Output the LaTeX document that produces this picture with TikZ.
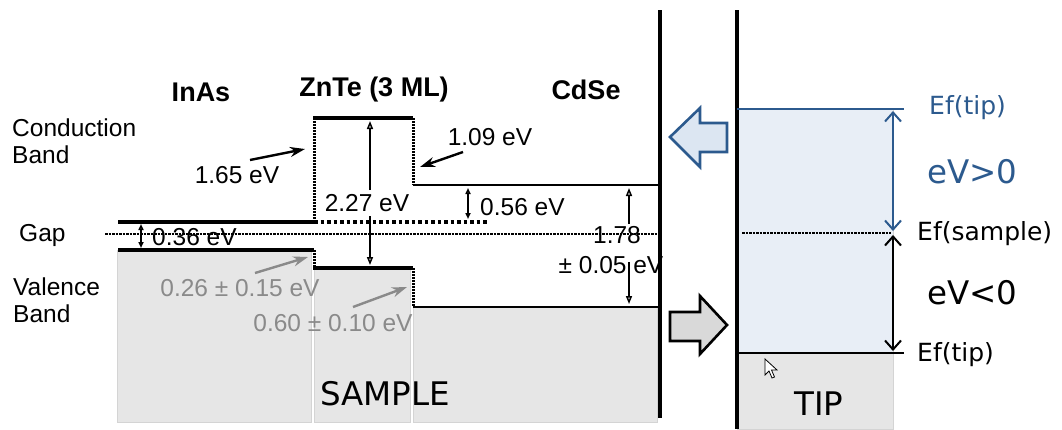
\documentclass[tikz,border=0pt]{standalone}
\usepackage{fontspec}
\setmainfont{Liberation Sans}
\newfontfamily\dv{DejaVu Sans}
\usetikzlibrary{arrows.meta}
\definecolor{boxgray}{HTML}{E6E6E6}
\definecolor{boxedge}{HTML}{D4D4D4}
\definecolor{tipblue}{HTML}{E8EEF6}
\definecolor{arrblue}{HTML}{DCE6F2}
\definecolor{linkblue}{HTML}{2C5A8E}
\definecolor{txtgray}{HTML}{8A8A8A}
\tikzset{
  level/.style={line width=4pt},
  thinlevel/.style={line width=2.8pt},
  zdots/.style={line width=3pt, dash pattern=on 1.5pt off 1.5pt},
  zdash/.style={line width=3.5pt, dash pattern=on 3.5pt off 3pt},
  gapline/.style={line width=1.1pt, dash pattern=on 2.5pt off 1pt},
  wall/.style={line width=3.5pt},
  dim/.style={line width=1.5pt, -{Triangle[open,length=8pt,width=6pt]}},
  dimboth/.style={line width=1.5pt, {Triangle[open,length=6pt,width=5pt]}-{Triangle[open,length=6pt,width=5pt]}},
  pointer/.style={line width=2.4pt, -{Stealth[length=15pt,width=10pt]}},
  gpointer/.style={line width=2.4pt, draw=txtgray, -{Stealth[length=15pt,width=10pt]}},
  lab/.style={inner sep=0pt, font=\fontsize{24.5}{27}\selectfont},
  glab/.style={lab, text=txtgray},
  head/.style={inner sep=0pt, font=\fontsize{27}{30}\selectfont\bfseries},
  dvlab/.style={inner sep=0pt, font=\dv\fontsize{25}{28}\selectfont},
  dvbig/.style={inner sep=0pt, font=\dv\fontsize{32.5}{36}\selectfont},
  barbs/.style={line width=1.5pt, {Straight Barb[length=9pt,width=16pt,line width=2pt]}-{Straight Barb[length=9pt,width=16pt,line width=2pt]}},
}
\begin{document}
\begin{tikzpicture}[x=1pt,y=-1pt]
\useasboundingbox (0,0) rectangle (1062,429);
% gray sample boxes
\fill[boxgray, draw=boxedge, line width=1pt] (117,250) rectangle (311,422);
\fill[boxgray, draw=boxedge, line width=1pt] (314,268) rectangle (410,422);
\fill[boxgray, draw=boxedge, line width=1pt] (413,307) rectangle (657,422);
% tip boxes
\fill[tipblue, draw=boxedge, line width=1pt] (737,108) rectangle (893,353);
\fill[boxgray, draw=boxedge, line width=1pt] (737,353) rectangle (893,429);

% coordinates
\coordinate (iCl) at (118,222); \coordinate (iCr) at (314,222);
\coordinate (iVl) at (118,250); \coordinate (iVr) at (314,250);
\coordinate (zCl) at (314,118); \coordinate (zCr) at (413,118);
\coordinate (zVl) at (314,268); \coordinate (zVr) at (413,268);
\coordinate (cCl) at (413,185); \coordinate (cCr) at (659,185);
\coordinate (cVl) at (413,307); \coordinate (cVr) at (659,307);
\coordinate (zDe) at (487,222);
\coordinate (gapL) at (105,234); \coordinate (gapR) at (660,234);
\coordinate (tgapL) at (742,233); \coordinate (tgapR) at (891,233);
\coordinate (sTop) at (660,10); \coordinate (sBot) at (660,418);
\coordinate (tTop) at (737,10); \coordinate (tBot) at (737,429);
\coordinate (efTl) at (737,109); \coordinate (efTr) at (904,109);
\coordinate (efBl) at (737,353); \coordinate (efBr) at (904,353);

% dotted lines
\draw[gapline] (gapL) -- (gapR);
\draw[gapline] (tgapL) -- (tgapR);
\draw[zdots] (zCl) -- (iCr);
\draw[zdots] (iVr) -- (zVl);
\draw[zdots] (zCr) -- (cCl);
\draw[zdots] (zVr) -- (cVl);
\draw[zdash] (iCr) -- (zDe);

% band levels
\draw[level] (iCl) -- (iCr);
\draw[level] (iVl) -- (iVr);
\draw[level] ([xshift=-1pt]zCl) -- (zCr);
\draw[level] ([xshift=-1pt]zVl) -- (zVr);
\draw[thinlevel] (cCl) -- (cCr);
\draw[thinlevel] (cVl) -- (cVr);

% walls
\draw[wall] (sTop) -- (sBot);
\draw[wall] (tTop) -- (tBot);

% Fermi levels of tip
\draw[line width=2.5pt, draw=linkblue] (efTl) -- (efTr);
\draw[line width=2.5pt] (efBl) -- (efBr);

% headers
\node[head] (hInAs) at (201,92) {InAs};
\node[head] (hZnTe) at (374,90) {ZnTe (3 ML)};
\node[head] (hCdSe) at (586,90) {CdSe};

% left labels
\node[lab, align=left, anchor=west] (lCB) at (12,141) {Conduction\\Band};
\node[lab, anchor=west] (lGap) at (19,235) {Gap};
\node[lab, align=left, anchor=west] (lVB) at (13,300) {Valence\\Band};

% dimension labels
\node[lab, anchor=west] (t036) at (152,237) {0.36 eV};
\draw[dimboth] (141,224) -- (141,248);

\node[lab] (t227) at (367,203) {2.27 eV};
\draw[dim] (370,190) -- (370,121);
\draw[dim] (370,216) -- (370,265);

\node[lab, anchor=west] (t056) at (480,207) {0.56 eV};
\draw[dimboth] (468,188) -- (468,219);

\node[lab] (t178a) at (617,235) {1.78};
\node[lab] (t178b) at (611,265) {± 0.05 eV};
\draw[dim] (629,224) -- (629,188);
\draw[dim] (629,262) -- (629,304);

\node[lab] (t165) at (237,175) {1.65 eV};
\coordinate (p165) at (305,149);
\draw[pointer] (250,160) -- (p165);

\node[lab] (t109) at (490,137) {1.09 eV};
\coordinate (p109) at (420,167);
\draw[pointer] (463,152) -- (p109);

\node[glab] (t026) at (240,288) {0.26 ± 0.15 eV};
\coordinate (p026) at (308,257);
\draw[gpointer] (255,273) -- (p026);

\node[glab] (t060) at (333,323) {0.60 ± 0.10 eV};
\coordinate (p060) at (407,287);
\draw[gpointer] (353,307) -- (p060);

\node[dvbig] (tSample) at (385,394) {SAMPLE};
\node[dvbig] (tTip) at (819,404) {TIP};

% block arrows
\draw[line width=2.6pt, draw=linkblue, fill=arrblue, line join=miter]
  (670,137) -- (700,108) -- (700,123) -- (727,123) -- (727,152) -- (700,152) -- (700,167) -- cycle;
\draw[line width=2.6pt, fill=gray!30, line join=miter]
  (670,312) -- (700,312) -- (700,296) -- (727,325) -- (700,354) -- (700,341) -- (670,341) -- cycle;

% tip-side dimension arrows
\draw[barbs, draw=linkblue] (893,111) -- (893,231);
\draw[barbs] (893,235) -- (893,351);

% tip labels
\node[dvlab, anchor=west, text=linkblue] (lEfTip1) at (929,108) {Ef(tip)};
\node[dvbig, anchor=west, text=linkblue] (lPos) at (927,172) {eV>0};
\node[dvlab, anchor=west] (lEfS) at (917,234) {Ef(sample)};
\node[dvbig, anchor=west] (lNeg) at (927,293) {eV<0};
\node[dvlab, anchor=west] (lEfTip2) at (917,355) {Ef(tip)};

% mouse cursor
\draw[fill=white, line width=0.8pt, line join=miter]
  (765,359) -- (765,375) -- (769,371) -- (772,378) -- (774.5,377) -- (771.5,370) -- (777,370) -- cycle;
\end{tikzpicture}
\end{document}
